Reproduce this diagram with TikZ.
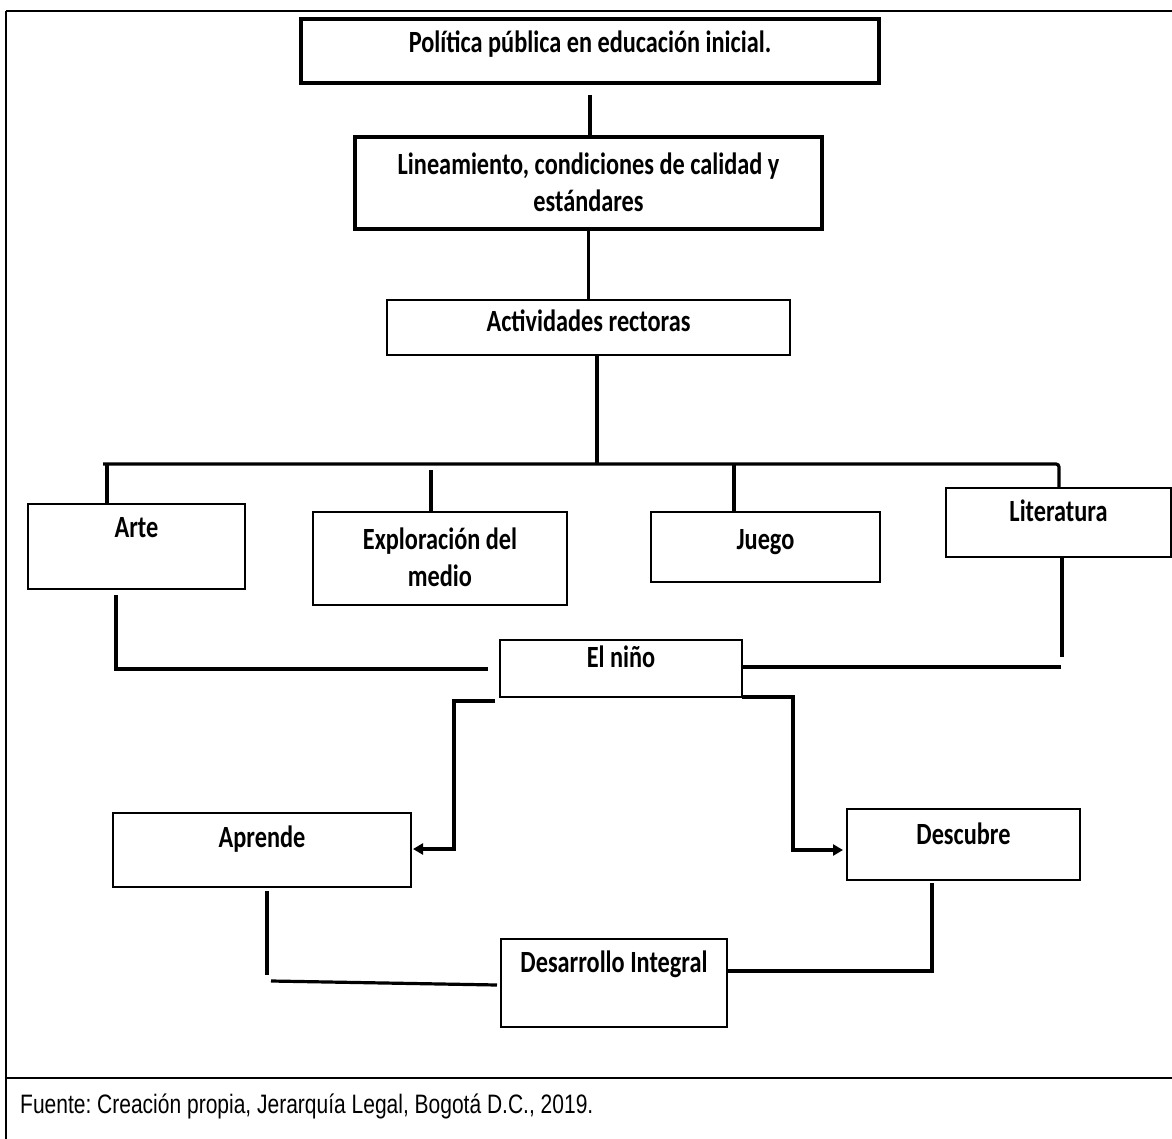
\documentclass[tikz,border=0pt]{standalone}
\usepackage{fontspec}
\newfontfamily\calfont{Carlito}
\newfontfamily\arialfont{Liberation Sans}
\usetikzlibrary{arrows.meta}
\newcommand{\vstr}[1]{\scalebox{1}[1.27]{#1}}
\frenchspacing
\begin{document}
\begin{tikzpicture}[x=1pt,y=-1pt,
  box/.style={draw, line width=1.8pt, inner sep=0pt, outer sep=0pt},
  heavybox/.style={box, line width=3.8pt},
  lab/.style={font=\calfont\bfseries\fontsize{24.3}{37}\selectfont, inner sep=0pt, anchor=base},
  conn/.style={line width=3.2pt},
  arr/.style={conn, -{Triangle[length=10pt,width=11pt]}},
  framel/.style={line width=2pt}]
\useasboundingbox (0,0) rectangle (1172,1139);
% frame
\draw[framel] (6,11) -- (1172,11);
\draw[framel] (6,11) -- (6,1139);
\draw[line width=2.6pt] (6,1078) -- (1172,1078);
\node[anchor=base west, inner sep=0pt, font=\arialfont\fontsize{21}{25}\selectfont] (fuente) at (20,1113) {\vstr{Fuente: Creación propia, Jerarquía Legal, Bogotá D.C., 2019.}};
% boxes
\node[heavybox, minimum width=578pt, minimum height=64pt] (pol) at (590,51) {};
\node[lab] at ([yshift=-34pt]pol.north) {\vstr{Política pública en educación inicial.}};
\node[heavybox, minimum width=467pt, minimum height=92pt] (lin) at (588.5,183) {};
\node[lab] at ([yshift=-38pt]lin.north) {\vstr{Lineamiento, condiciones de calidad y}};
\node[lab] at ([yshift=-75pt]lin.north) {\vstr{estándares}};
\node[box, minimum width=403pt, minimum height=55pt] (act) at (588.5,327.5) {};
\node[lab] at ([yshift=-32pt]act.north) {\vstr{Actividades rectoras}};
\node[box, minimum width=217pt, minimum height=85pt] (arte) at (136.4,546.5) {};
\node[lab] at ([yshift=-33pt]arte.north) {\vstr{Arte}};
\node[box, minimum width=254pt, minimum height=93pt] (expl) at (440,558.5) {};
\node[lab] at ([yshift=-37pt]expl.north) {\vstr{Exploración del}};
\node[lab] at ([yshift=-74pt]expl.north) {\vstr{medio}};
\node[box, minimum width=229pt, minimum height=70pt] (juego) at (765.5,547) {};
\node[lab] at ([yshift=-37pt]juego.north) {\vstr{Juego}};
\node[box, minimum width=225pt, minimum height=69pt] (lit) at (1058.5,522.5) {};
\node[lab] at ([yshift=-33pt]lit.north) {\vstr{Literatura}};
\node[box, minimum width=242pt, minimum height=57pt] (nino) at (621,668.5) {};
\node[lab] at ([yshift=-27pt]nino.north) {\vstr{El niño}};
\node[box, minimum width=298pt, minimum height=74pt] (aprende) at (262,850) {};
\node[lab] at ([yshift=-34pt]aprende.north) {\vstr{Aprende}};
\node[box, minimum width=233pt, minimum height=71pt] (descubre) at (963.5,844.5) {};
\node[lab] at ([yshift=-35pt]descubre.north) {\vstr{Descubre}};
\node[box, minimum width=226pt, minimum height=88pt] (desarrollo) at (614,983) {};
\node[lab] at ([yshift=-33pt]desarrollo.north) {\vstr{Desarrollo Integral}};
% coordinates
\coordinate (busL) at (103,464);
\coordinate (busR) at (1059,464);
\coordinate (busM) at (597,464);
\coordinate (dA) at (107,464);
\coordinate (dE) at (431,470);
\coordinate (dJ) at (734,465);
\coordinate (artec) at (116,669);
\coordinate (litc) at (1062,657);
\coordinate (litd) at (1061,667);
\coordinate (apc) at (454,849);
\coordinate (dsc) at (793,850);
\coordinate (apr) at (267,975);
\coordinate (dl) at (497,985);
\coordinate (dsl) at (932,971);
% connectors
\draw[conn, shorten <=12pt] (pol.south) -- (pol.south |- lin.north);
\draw[conn] (lin.south) -- (lin.south |- act.north);
\draw[conn] (busM |- act.south) -- (busM);
\draw[conn, rounded corners=3pt] (busL) -- (busR) -- (lit.north -| busR);
\draw[conn] (dA) -- (dA |- arte.north);
\draw[conn] (dE) -- (dE |- expl.north);
\draw[conn] (dJ) -- (dJ |- juego.north);
\draw[conn, shorten <=6pt] (arte.south -| artec) -- (artec) -- ([xshift=-12pt]nino.west |- artec);
\draw[conn] (lit.south -| litc) -- (litc);
\draw[conn] (nino.east |- litd) -- (litd);
\draw[arr] ([xshift=-5pt,yshift=-4pt]nino.south west) -| (apc) -- ([xshift=2pt]aprende.east |- apc);
\draw[arr] (nino.south east) -| (dsc) -- ([xshift=-4pt]descubre.west |- dsc);
\draw[conn, shorten <=4pt] (aprende.south -| apr) -- (apr);
\draw[conn] ([xshift=4pt,yshift=-6pt]apr) -- (dl);
\draw[conn, shorten <=3pt] (descubre.south -| dsl) -- (dsl) -- (desarrollo.east |- dsl);
\end{tikzpicture}
\end{document}
